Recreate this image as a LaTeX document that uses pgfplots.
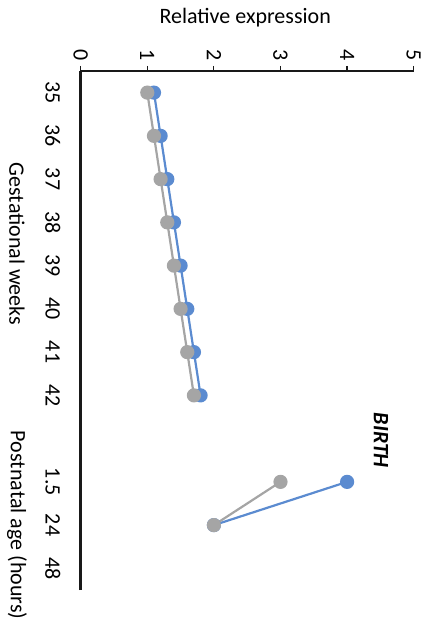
\documentclass[border=0pt]{standalone}
\usepackage{pgfplots}
\pgfplotsset{compat=1.18}
\usepackage{fontspec}
\setmainfont{Carlito}

\definecolor{exblue}{HTML}{5B8BD0}
\definecolor{exgrey}{HTML}{A5A5A5}

\begin{document}
\fontsize{22}{26}\selectfont
\begin{tikzpicture}
\path[use as bounding box] (-80.7pt,-44pt) rectangle (347.3pt,590pt);
\begin{axis}[
  at={(0pt,0pt)}, anchor=south west,
  scale only axis,
  width=333pt, height=519pt,
  xmin=0, xmax=5,
  ymin=-11.5, ymax=0.5,
  axis x line*=top,
  axis y line*=left,
  axis line style={line width=2.4pt, color=black!90},
  xtick={0,1,2,3,4,5},
  tick align=outside,
  major tick length=5pt,
  x tick style={line width=1.2pt, black!90},
  % shifts are given in the rotated frame of the labels
  xticklabel style={rotate=-90, anchor=center, xshift=-11pt},
  ytick={0,-1,-2,-3,-4,-5,-6,-7,-9,-10,-11},
  yticklabels={35,36,37,38,39,40,41,42,1.5,24,48},
  y tick style={draw=none},
  yticklabel style={rotate=-90, anchor=center, yshift=-23pt},
  /pgf/number format/assume math mode=true,
  clip=false,
]
% blue series
\addplot[exblue, line width=2.2pt, mark=*, mark size=6pt]
  coordinates {(1.1,0)(1.2,-1)(1.3,-2)(1.4,-3)(1.5,-4)(1.6,-5)(1.7,-6)(1.8,-7)};
\addplot[exblue, line width=2.2pt, mark=*, mark size=6pt]
  coordinates {(4.0,-9)(2.0,-10)};
% grey series
\addplot[exgrey, line width=2.2pt, mark=*, mark size=6pt]
  coordinates {(1.0,0)(1.1,-1)(1.2,-2)(1.3,-3)(1.4,-4)(1.5,-5)(1.6,-6)(1.7,-7)};
\addplot[exgrey, line width=2.2pt, mark=*, mark size=6pt]
  coordinates {(3.0,-9)(2.0,-10)};

\node at (axis cs:2.47,0.5) [yshift=53pt] {Relative expression};
\node[rotate=-90] at (axis cs:-0.956,-3.5) {Gestational weeks};
\node[rotate=-90] at (axis cs:-0.956,-10.0) {Postnatal age (hours)};
\node[rotate=-90, font=\bfseries\itshape] at (axis cs:4.51,-8.04) {BIRTH};
\end{axis}
\end{tikzpicture}
\end{document}
